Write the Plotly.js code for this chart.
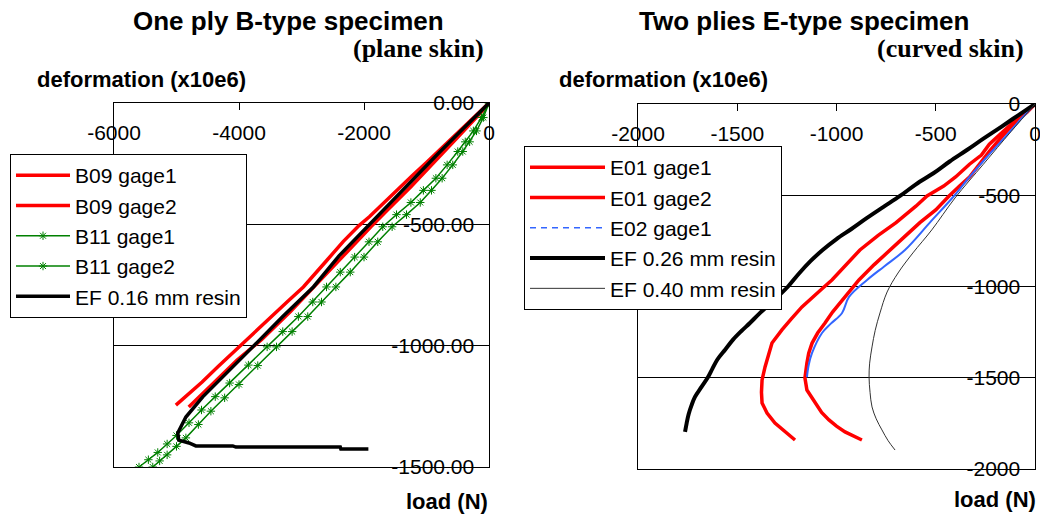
<!DOCTYPE html>
<html>
<head>
<meta charset="utf-8">
<script src="https://cdn.plot.ly/plotly-3.0.1.min.js"></script>
<style>html,body{margin:0;padding:0;background:#fff;}#chart{width:1040px;height:515px;}</style>
</head>
<body>
<div id="chart"></div>
<script>
// ---------- Left chart: One ply B-type specimen ----------
const b09g1X = [0,-120,-300,-540,-780,-1000,-1230,-1470,-1720,-1910,-2080,-2330,-2600,-2790,-2970,-3210,-3460,-3720,-3920,-4060,-4330,-4590,-4810,-5010];
const b09g1Y = [0,-30,-75,-130,-190,-245,-300,-360,-420,-468,-505,-570,-650,-705,-758,-815,-875,-935,-985,-1020,-1085,-1150,-1200,-1245];
const b09g2X = [0,-150,-460,-860,-1250,-1640,-1890,-2330,-2750,-3180,-3640,-4030,-4390,-4804];
const b09g2Y = [0,-45,-130,-240,-345,-445,-510,-630,-745,-860,-975,-1059,-1150,-1253];
const b11g1X = [0,-120,-250,-380,-500,-670,-850,-1050,-1250,-1480,-1700,-1920,-2150,-2380,-2600,-2820,-3050,-3300,-3550,-3850,-4150,-4380,-4600,-4800,-5000,-5150,-5300,-5450,-5600];
const b11g1Y = [0,-60,-115,-160,-200,-255,-310,-360,-410,-460,-510,-572,-635,-697,-758,-820,-880,-942,-1005,-1080,-1154,-1210,-1265,-1318,-1370,-1405,-1440,-1470,-1500];
const b11g2X = [0,-90,-200,-310,-420,-580,-750,-920,-1100,-1320,-1550,-1780,-2000,-2220,-2450,-2680,-2900,-3150,-3400,-3700,-4000,-4230,-4450,-4650,-4850,-5000,-5150,-5270,-5380];
const b11g2Y = [0,-60,-115,-160,-200,-255,-310,-360,-410,-460,-510,-572,-635,-697,-758,-820,-880,-942,-1005,-1082,-1160,-1215,-1270,-1325,-1380,-1415,-1450,-1475,-1500];
const ef16X = [0,-200,-500,-800,-1100,-1500,-1930,-2400,-2810,-3300,-3780,-4210,-4580,-4850,-4980,-4964,-4800,-4690,-4100,-4050,-2380,-2370,-1930];
const ef16Y = [0,-50,-128,-205,-285,-390,-505,-630,-758,-880,-1005,-1113,-1211,-1294,-1360,-1389,-1401,-1413,-1413,-1418,-1418,-1426,-1426];

const leftXTicks = [-6000,-4000,-2000,0];
const leftXTickText = ['-6000','-4000','-2000','0'];
const leftYTicks = [0,-500,-1000,-1500];
const leftYTickText = ['0.00','-500.00','-1000.00','-1500.00'];

// ---------- Right chart: Two plies E-type specimen ----------
const e01g1X = [0,-40,-110,-170,-230,-270,-330,-400,-460,-544,-600,-700,-790,-882,-950,-1023,-1070,-1118,-1174,-1230,-1275,-1325,-1345,-1360,-1375,-1378,-1375,-1350,-1310,-1260,-1230,-1209];
const e01g1Y = [0,-40,-100,-160,-220,-280,-330,-400,-450,-504,-560,-650,-720,-800,-880,-964,-1010,-1057,-1112,-1180,-1238,-1310,-1380,-1441,-1512,-1580,-1638,-1693,-1748,-1797,-1820,-1841];
const e01g2X = [0,-40,-100,-160,-230,-280,-330,-380,-433,-500,-580,-650,-731,-810,-887,-930,-972,-1020,-1058,-1095,-1123,-1140,-1149,-1159,-1149,-1108,-1075,-1038,-1000,-957,-910,-872];
const e01g2Y = [0,-45,-100,-170,-260,-330,-400,-450,-504,-580,-650,-720,-800,-880,-964,-1020,-1074,-1140,-1200,-1255,-1310,-1365,-1419,-1501,-1567,-1638,-1690,-1731,-1765,-1797,-1820,-1841];
const e02g1X = [0,-60,-150,-250,-330,-408,-530,-655,-760,-846,-937,-972,-1030,-1073,-1123,-1140,-1149];
const e02g1Y = [0,-70,-180,-300,-400,-504,-650,-800,-890,-964,-1057,-1145,-1205,-1255,-1364,-1430,-1496];
const ef26X = [0,-85,-170,-260,-343,-430,-510,-600,-680,-765,-850,-925,-1000,-1070,-1130,-1190,-1244,-1300,-1340,-1390,-1436,-1480,-1520,-1560,-1600,-1625,-1647,-1680,-1713,-1730,-1745,-1755,-1763];
const ef26Y = [0,-62,-125,-190,-252,-315,-378,-440,-504,-565,-627,-685,-740,-800,-860,-930,-1000,-1060,-1100,-1150,-1200,-1245,-1290,-1345,-1400,-1450,-1496,-1550,-1605,-1650,-1700,-1750,-1797];
const ef40X = [0,-120,-260,-403,-520,-615,-690,-745,-781,-805,-821,-833,-836,-831,-821,-800,-771,-740,-705];
const ef40Y = [0,-150,-330,-515,-690,-816,-926,-1030,-1145,-1240,-1331,-1420,-1496,-1580,-1660,-1725,-1786,-1845,-1896];

const rightXTicks = [-2000,-1500,-1000,-500,0];
const rightXTickText = ['-2000','-1500','-1000','-500','0'];
const rightYTicks = [0,-500,-1000,-1500,-2000];
const rightYTickText = ['0','-500','-1000','-1500','-2000'];

// ---------- Layout helpers ----------
const W = 1040, H = 515;
const P = px => px / W;
const Q = py => 1 - py / H;
const SANS = 'Liberation Sans, Arial, sans-serif';
const SERIF = 'Liberation Serif, Times New Roman, serif';
const RED = '#ff0000', GREEN = '#008000', BLUE = '#3366ff';

const traces = [
  {x:b09g1X, y:b09g1Y, name:'B09 gage1', xaxis:'x', yaxis:'y', legend:'legend', mode:'lines', line:{color:RED, width:3.5}},
  {x:b09g2X, y:b09g2Y, name:'B09 gage2', xaxis:'x', yaxis:'y', legend:'legend', mode:'lines', line:{color:RED, width:3.5}},
  {x:b11g1X, y:b11g1Y, name:'B11 gage1', xaxis:'x', yaxis:'y', legend:'legend', mode:'lines+markers', line:{color:GREEN, width:1.5}, marker:{symbol:'asterisk-open', size:7, color:GREEN, line:{color:GREEN, width:1}}},
  {x:b11g2X, y:b11g2Y, name:'B11 gage2', xaxis:'x', yaxis:'y', legend:'legend', mode:'lines+markers', line:{color:GREEN, width:1.5}, marker:{symbol:'asterisk-open', size:7, color:GREEN, line:{color:GREEN, width:1}}},
  {x:ef16X, y:ef16Y, name:'EF 0.16 mm resin', xaxis:'x', yaxis:'y', legend:'legend', mode:'lines', line:{color:'#000', width:3.5}},

  {x:e01g1X, y:e01g1Y, name:'E01 gage1', xaxis:'x2', yaxis:'y2', legend:'legend2', mode:'lines', line:{color:RED, width:3.5}},
  {x:e01g2X, y:e01g2Y, name:'E01 gage2', xaxis:'x2', yaxis:'y2', legend:'legend2', mode:'lines', line:{color:RED, width:3.5}},
  {x:[null], y:[null], name:'E02 gage1', xaxis:'x2', yaxis:'y2', legend:'legend2', legendgroup:'e02', mode:'lines', line:{color:BLUE, width:1.5, dash:'6px,5px'}},
  {x:e02g1X, y:e02g1Y, name:'E02 gage1', xaxis:'x2', yaxis:'y2', legend:'legend2', legendgroup:'e02', showlegend:false, mode:'lines', line:{color:BLUE, width:2, shape:'spline'}},
  {x:ef26X, y:ef26Y, name:'EF 0.26 mm resin', xaxis:'x2', yaxis:'y2', legend:'legend2', mode:'lines', line:{color:'#000', width:4, shape:'spline'}},
  {x:ef40X, y:ef40Y, name:'EF 0.40 mm resin', xaxis:'x2', yaxis:'y2', legend:'legend2', mode:'lines', line:{color:'#333', width:1, shape:'spline'}}
];

function xAx(domain, range, vals, text) {
  return {domain, range, side:'top', tickvals:vals, ticktext:text, ticks:'inside', ticklen:7, tickcolor:'#000',
    ticklabelposition:'inside', ticklabeloverflow:'allow', ticklabelstandoff:17,
    showline:true, linecolor:'#000', linewidth:1, mirror:true, showgrid:false, zeroline:false,
    tickfont:{family:SANS, size:21, color:'#000'}, fixedrange:true};
}
function yAx(domain, range, vals, text, anchor) {
  return {domain, range, side:'right', anchor, tickvals:vals, ticktext:text, ticks:'',
    ticklabelposition:'inside', ticklabeloverflow:'allow', ticklabelstandoff:16,
    showline:true, linecolor:'#000', linewidth:1, mirror:true, showgrid:true, gridcolor:'#000', gridwidth:1, zeroline:false,
    tickfont:{family:SANS, size:21, color:'#000'}, fixedrange:true};
}

const layout = {
  width:W, height:H, margin:{l:0, r:0, t:0, b:0},
  paper_bgcolor:'#fff', plot_bgcolor:'#fff', showlegend:true,
  xaxis: Object.assign(xAx([P(114), P(489)], [-6000,0], leftXTicks, leftXTickText), {anchor:'y'}),
  yaxis: yAx([Q(467), Q(103)], [-1500,0], leftYTicks, leftYTickText, 'x'),
  xaxis2: Object.assign(xAx([P(638), P(1035)], [-2000,0], rightXTicks, rightXTickText), {anchor:'y2'}),
  yaxis2: yAx([Q(469), Q(104)], [-2000,0], rightYTicks, rightYTickText, 'x2'),
  legend: {x:P(10), y:Q(154), xanchor:'left', yanchor:'top', bgcolor:'#fff', bordercolor:'#000', borderwidth:1,
    font:{family:SANS, size:21, color:'#000'}, itemwidth:54, traceorder:'normal'},
  legend2: {x:P(524), y:Q(146), xanchor:'left', yanchor:'top', bgcolor:'#fff', bordercolor:'#000', borderwidth:1,
    font:{family:SANS, size:21, color:'#000'}, itemwidth:75, traceorder:'normal'},
  annotations: [
    {text:'<b>One ply B-type specimen</b>', x:P(288), y:Q(21), xref:'paper', yref:'paper', xanchor:'center', yanchor:'middle', showarrow:false, font:{family:SANS, size:26, color:'#000'}},
    {text:'<b>(plane skin)</b>', x:P(486), y:Q(48), xref:'paper', yref:'paper', xanchor:'right', yanchor:'middle', showarrow:false, font:{family:SERIF, size:26, color:'#000'}},
    {text:'<b>deformation (x10e6)</b>', x:P(35), y:Q(80), xref:'paper', yref:'paper', xanchor:'left', yanchor:'middle', showarrow:false, font:{family:SANS, size:22, color:'#000'}},
    {text:'<b>load (N)</b>', x:P(490), y:Q(501), xref:'paper', yref:'paper', xanchor:'right', yanchor:'middle', showarrow:false, font:{family:SANS, size:22, color:'#000'}},
    {text:'<b>Two plies E-type specimen</b>', x:P(804), y:Q(21), xref:'paper', yref:'paper', xanchor:'center', yanchor:'middle', showarrow:false, font:{family:SANS, size:26, color:'#000'}},
    {text:'<b>(curved skin)</b>', x:P(1026), y:Q(48), xref:'paper', yref:'paper', xanchor:'right', yanchor:'middle', showarrow:false, font:{family:SERIF, size:26, color:'#000'}},
    {text:'<b>deformation (x10e6)</b>', x:P(557), y:Q(80), xref:'paper', yref:'paper', xanchor:'left', yanchor:'middle', showarrow:false, font:{family:SANS, size:22, color:'#000'}},
    {text:'<b>load (N)</b>', x:P(1038), y:Q(499), xref:'paper', yref:'paper', xanchor:'right', yanchor:'middle', showarrow:false, font:{family:SANS, size:22, color:'#000'}}
  ]
};

Plotly.newPlot('chart', traces, layout, {displayModeBar:false, staticPlot:true});
</script>
</body>
</html>
